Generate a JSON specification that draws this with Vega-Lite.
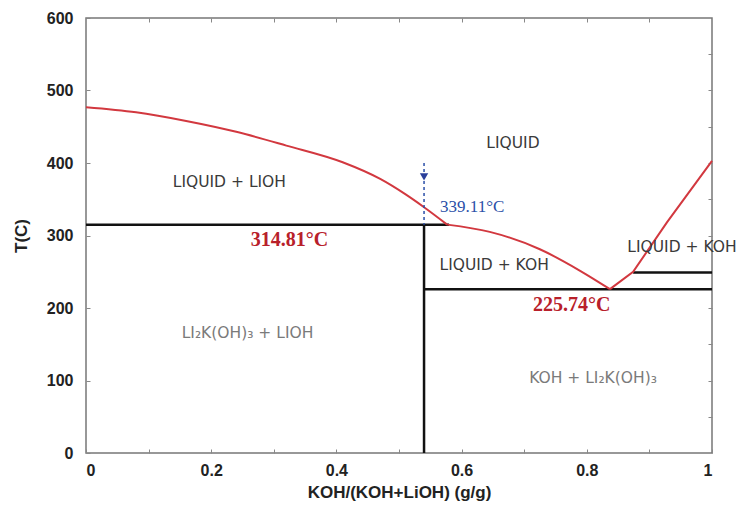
{
  "$schema": "https://vega.github.io/schema/vega-lite/v6.json",
  "width": 626,
  "height": 435,
  "autosize": "none",
  "padding": {"left": 86, "top": 18, "right": 31, "bottom": 57},
  "background": "white",
  "config": {
    "view": {"stroke": "#777", "strokeWidth": 1.5},
    "axis": {
      "grid": false,
      "domain": false,
      "labelFont": "Liberation Sans",
      "labelFontWeight": "bold",
      "labelFontSize": 16,
      "labelColor": "#222",
      "titleFont": "Liberation Sans",
      "titleFontWeight": "bold",
      "titleFontSize": 17,
      "titleColor": "#222",
      "tickColor": "#888",
      "tickWidth": 1,
      "tickSize": -4
    }
  },
  "datasets": {
    "curve": [
      {"part": "a", "x": 0.0, "T": 477}, {"part": "a", "x": 0.08, "T": 470}, {"part": "a", "x": 0.16, "T": 458},
      {"part": "a", "x": 0.24, "T": 443}, {"part": "a", "x": 0.32, "T": 424}, {"part": "a", "x": 0.41, "T": 401},
      {"part": "a", "x": 0.47, "T": 378}, {"part": "a", "x": 0.51, "T": 357}, {"part": "a", "x": 0.54, "T": 339},
      {"part": "a", "x": 0.577, "T": 315},
      {"part": "b", "x": 0.577, "T": 315}, {"part": "b", "x": 0.645, "T": 305}, {"part": "b", "x": 0.725, "T": 281},
      {"part": "b", "x": 0.79, "T": 251}, {"part": "b", "x": 0.837, "T": 226}
    ],
    "curve2": [
      {"x": 0.837, "T": 226}, {"x": 0.874, "T": 250},
      {"x": 0.928, "T": 318}, {"x": 1.0, "T": 403}
    ],
    "segs": [
      {"seg": "a", "x": 0.0, "T": 314.81}, {"seg": "a", "x": 0.58, "T": 314.81},
      {"seg": "b", "x": 0.54, "T": 0}, {"seg": "b", "x": 0.54, "T": 314.81},
      {"seg": "c", "x": 0.54, "T": 225.74}, {"seg": "c", "x": 1.0, "T": 225.74},
      {"seg": "d", "x": 0.874, "T": 249}, {"seg": "d", "x": 1.0, "T": 249}
    ],
    "phases": [
      {"x": 0.682, "T": 428, "label": "LIQUID"},
      {"x": 0.229, "T": 374, "label": "LIQUID + LIOH"},
      {"x": 0.652, "T": 259, "label": "LIQUID + KOH"},
      {"x": 0.952, "T": 284, "label": "LIQUID + KOH"}
    ],
    "solids": [
      {"x": 0.258, "T": 166, "label": "LI₂K(OH)₃ + LIOH"},
      {"x": 0.81, "T": 103, "label": "KOH + LI₂K(OH)₃"}
    ],
    "temps": [
      {"x": 0.325, "T": 294, "label": "314.81°C"},
      {"x": 0.776, "T": 204, "label": "225.74°C"}
    ],
    "blue": [
      {"x": 0.617, "T": 339, "label": "339.11°C"}
    ],
    "dash": [
      {"x": 0.54, "T": 400, "T2": 315}
    ],
    "arrow": [
      {"x": 0.54, "T": 381}
    ]
  },
  "resolve": {"scale": {"x": "independent", "y": "independent"}},
  "layer": [
    {
      "layer": [
        {
          "data": {"name": "segs"},
          "mark": {"type": "line", "color": "#111", "strokeWidth": 2.5},
          "encoding": {
            "x": {
              "field": "x", "type": "quantitative",
              "scale": {"domain": [0, 1], "nice": false},
              "axis": {
                "title": "KOH/(KOH+LiOH) (g/g)",
                "values": [0, 0.1, 0.2, 0.3, 0.4, 0.5, 0.6, 0.7, 0.8, 0.9, 1],
                "labelExpr": "datum.value == 0 ? '0' : datum.value == 1 ? '1' : (round(datum.value * 10) % 2 == 0 ? format(datum.value, '.1f') : '')",
                "labelPadding": 13,
                "titlePadding": 6
              }
            },
            "y": {
              "field": "T", "type": "quantitative",
              "scale": {"domain": [0, 600], "nice": false},
              "axis": {
                "title": "T(C)",
                "values": [0, 50, 100, 150, 200, 250, 300, 350, 400, 450, 500, 550, 600],
                "labelExpr": "datum.value % 100 == 0 ? format(datum.value, 'd') : ''",
                "labelPadding": 17,
                "titlePadding": 16
              }
            },
            "detail": {"field": "seg"}
          }
        },
        {
          "data": {"name": "curve"},
          "mark": {"type": "line", "color": "#d2383f", "strokeWidth": 2, "interpolate": "monotone"},
          "encoding": {
            "x": {"field": "x", "type": "quantitative"},
            "y": {"field": "T", "type": "quantitative"},
            "detail": {"field": "part"}
          }
        },
        {
          "data": {"name": "curve2"},
          "mark": {"type": "line", "color": "#d2383f", "strokeWidth": 2},
          "encoding": {
            "x": {"field": "x", "type": "quantitative"},
            "y": {"field": "T", "type": "quantitative"}
          }
        },
        {
          "data": {"name": "dash"},
          "mark": {"type": "rule", "color": "#2a4fa8", "strokeWidth": 1.5, "strokeDash": [3, 3]},
          "encoding": {
            "x": {"field": "x", "type": "quantitative"},
            "y": {"field": "T", "type": "quantitative"},
            "y2": {"field": "T2"}
          }
        },
        {
          "data": {"name": "phases"},
          "mark": {"type": "text", "font": "DejaVu Sans", "fontSize": 15.5, "color": "#3a3a3a"},
          "encoding": {
            "x": {"field": "x", "type": "quantitative"},
            "y": {"field": "T", "type": "quantitative"},
            "text": {"field": "label"}
          }
        },
        {
          "data": {"name": "solids"},
          "mark": {"type": "text", "font": "DejaVu Sans", "fontSize": 15.5, "color": "#7a7a7a"},
          "encoding": {
            "x": {"field": "x", "type": "quantitative"},
            "y": {"field": "T", "type": "quantitative"},
            "text": {"field": "label"}
          }
        },
        {
          "data": {"name": "temps"},
          "mark": {"type": "text", "font": "Liberation Serif", "fontWeight": "bold", "fontSize": 20, "color": "#b8202a"},
          "encoding": {
            "x": {"field": "x", "type": "quantitative"},
            "y": {"field": "T", "type": "quantitative"},
            "text": {"field": "label"}
          }
        },
        {
          "data": {"name": "blue"},
          "mark": {"type": "text", "font": "Liberation Serif", "fontSize": 17, "color": "#2a4fa8"},
          "encoding": {
            "x": {"field": "x", "type": "quantitative"},
            "y": {"field": "T", "type": "quantitative"},
            "text": {"field": "label"}
          }
        }
      ]
    },
    {
      "data": {"name": "arrow"},
      "mark": {"type": "point", "shape": "triangle-down", "filled": true, "color": "#2a3f9a", "size": 70, "opacity": 1},
      "encoding": {
        "x": {"field": "x", "type": "quantitative", "scale": {"domain": [0, 1], "nice": false}, "axis": {"orient": "top", "labels": false, "title": null, "values": [0.1, 0.2, 0.3, 0.4, 0.5, 0.6, 0.7, 0.8, 0.9]}},
        "y": {"field": "T", "type": "quantitative", "scale": {"domain": [0, 600], "nice": false}, "axis": {"orient": "right", "labels": false, "title": null, "values": [50, 100, 150, 200, 250, 300, 350, 400, 450, 500, 550]}}
      }
    }
  ]
}
